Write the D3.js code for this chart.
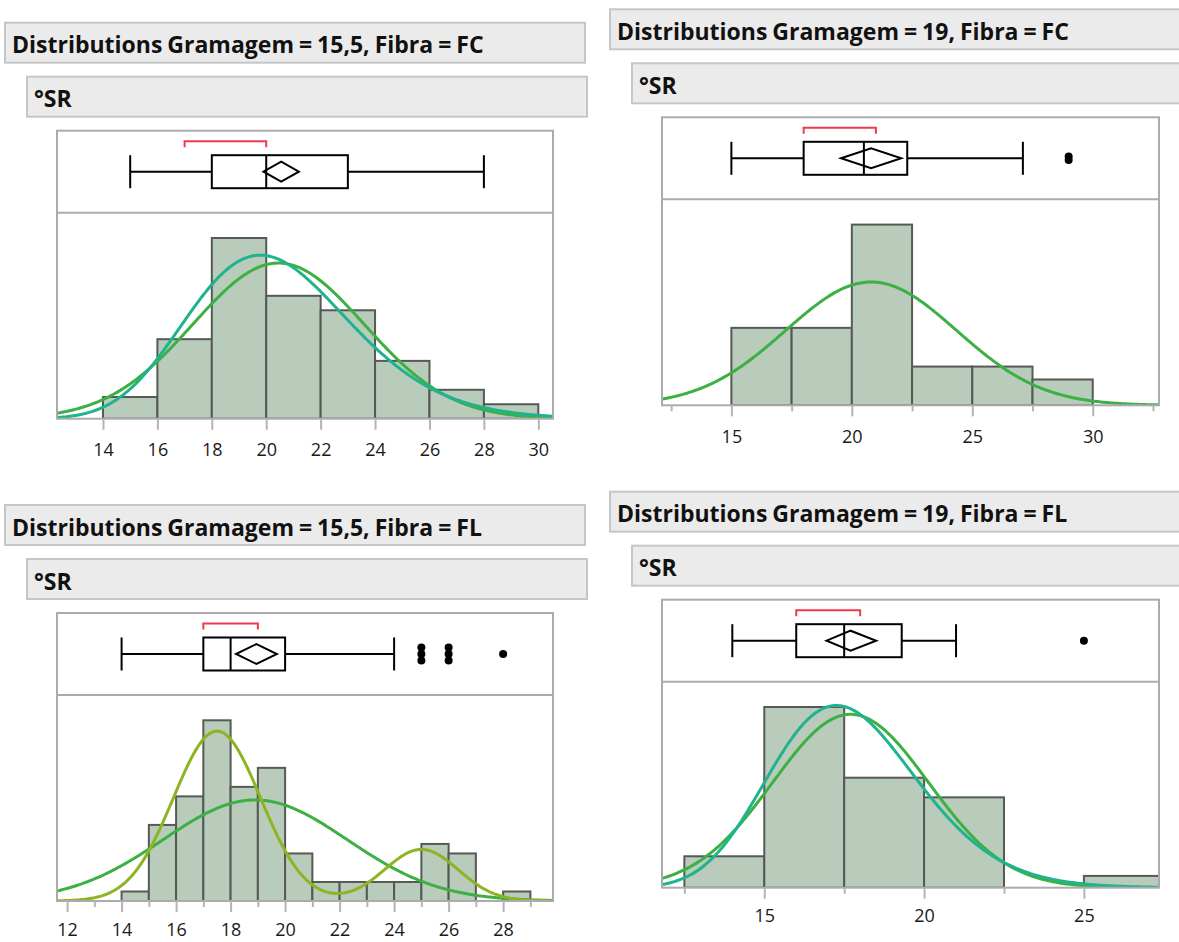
<!DOCTYPE html>
<html>
<head>
<meta charset="utf-8">
<script src="https://cdn.jsdelivr.net/npm/d3@7"></script>
<style>
  body { margin: 0; background: #fff; }
  svg { display: block; }
</style>
</head>
<body>
<div id="chart"></div>
<script>
// four JMP distribution reports, order: top-left, top-right, bottom-left, bottom-right
var titles = ["Distributions Gramagem = 15,5, Fibra = FC", "Distributions Gramagem = 19, Fibra = FC",
              "Distributions Gramagem = 15,5, Fibra = FL", "Distributions Gramagem = 19, Fibra = FL"];
var varName = "°SR";

// histogram bins
var binStart = [14, 15, 14, 12.5];
var binWidth = [2, 2.5, 1, 2.5];
var counts1 = [3, 11, 25, 17, 15, 8, 4, 2];
var counts2 = [6, 6, 14, 3, 3, 2];
var counts3 = [1, 8, 11, 19, 12, 14, 5, 2, 2, 2, 2, 6, 5, 0, 1];
var counts4 = [8, 46, 28, 23, 0, 3];

// x axis ranges and ticks
var xRange = [[12.31, 30.54], [12.12, 32.75], [11.63, 29.83], [11.8, 27.35]];
var majorTicks = [[14, 16, 18, 20, 22, 24, 26, 28, 30], [15, 20, 25, 30],
                  [12, 14, 16, 18, 20, 22, 24, 26, 28], [15, 20, 25]];
var minorTicks = [[], [12.5, 17.5, 22.5, 27.5, 32.5],
                  [13, 15, 17, 19, 21, 23, 25, 27, 29], [12.5, 17.5, 22.5]];

// outlier box plot: [whisker low, q1, median, q3, whisker high]
var boxFive = [[15, 18, 20, 23, 28], [15, 18, 20.5, 22.3, 27.1],
               [14, 17, 18, 20, 24], [14, 16, 17.5, 19.3, 21]];
// mean diamond: [ci low, mean, ci high]
var meanDiamond = [[19.9, 20.55, 21.2], [19.55, 20.8, 22.05],
                   [18.2, 18.95, 19.7], [16.95, 17.7, 18.5]];
var shortestHalf = [[17, 20], [18, 21], [17, 19], [16, 18]];
var outliers = [[], [29, 29], [25, 25, 25, 26, 26, 26, 28], [25]];

// fitted curves
var normalFit = [[20.45, 3.15], [20.8, 3.55], [18.9, 3.38], [17.7, 2.44]];   // mean, sd
var lognormalFit = [[3.0072, 0.1499], null, null, [2.8659, 0.1334]];        // mu, sigma of log
var mixtureFit = [null, null, [[0.796, 17.5, 1.6], [0.204, 25.0, 1.35]], null]; // p, mean, sd

var allCounts = [counts1, counts2, counts3, counts4];

var width = 1179, height = 942;
var headerX = [5, 610, 5, 610];
var topY = [22.7, 9.3, 505, 491.7];
var frameX = [57, 662, 57, 662];
var frameW = [496, 497, 496, 497];
var labelPad = [14, 14, 11, 11];

var svg = d3.select("#chart")
  .append("svg")
    .attr("width", width)
    .attr("height", height)
    .style("font-family", "'Segoe UI', 'Open Sans', 'Noto Sans', sans-serif");

function normPdf(x, m, s) {
  return Math.exp(-0.5 * Math.pow((x - m) / s, 2)) / (s * Math.sqrt(2 * Math.PI));
}
function lognormPdf(x, mu, s) {
  if (x <= 0) return 0;
  return Math.exp(-0.5 * Math.pow((Math.log(x) - mu) / s, 2)) / (x * s * Math.sqrt(2 * Math.PI));
}

for (var i = 0; i < 4; i++) drawPanel(i);

function drawPanel(i) {
  var T = topY[i];
  var g = svg.append("g");

  // header boxes
  g.append("rect")
    .attr("x", headerX[i]).attr("y", T)
    .attr("width", 580).attr("height", 40)
    .attr("fill", "#ebebeb").attr("stroke", "#c6c6c6").attr("stroke-width", 2);
  g.append("text")
    .attr("x", headerX[i] + 7).attr("y", T + 30.5)
    .attr("font-size", 23).attr("font-weight", "bold").attr("fill", "#111")
    .attr("word-spacing", -1)
    .text(titles[i]);
  g.append("rect")
    .attr("x", headerX[i] + 22).attr("y", T + 54)
    .attr("width", 560).attr("height", 40)
    .attr("fill", "#ebebeb").attr("stroke", "#c6c6c6").attr("stroke-width", 2);
  g.append("text")
    .attr("x", headerX[i] + 29).attr("y", T + 84.5)
    .attr("font-size", 23).attr("font-weight", "bold").attr("fill", "#111")
    .text(varName);

  var fx = frameX[i], fw = frameW[i];
  var boxTop = T + 108, sepY = T + 190, axisY = T + 396;

  var x = d3.scaleLinear().domain(xRange[i]).range([fx, fx + fw]);
  var counts = allCounts[i];
  var y = d3.scaleLinear()
    .domain([0, d3.max(counts) * 1.14])
    .range([axisY, sepY]);

  var bins = counts.map(function(c, k) {
    return {x0: binStart[i] + k * binWidth[i], x1: binStart[i] + (k + 1) * binWidth[i], n: c};
  });

  var clipId = "clip" + i;
  g.append("clipPath").attr("id", clipId)
    .append("rect").attr("x", fx).attr("y", sepY).attr("width", fw).attr("height", axisY - sepY);

  var hist = g.append("g").attr("clip-path", "url(#" + clipId + ")");
  hist.selectAll("rect.bar")
    .data(bins.filter(function(d) { return d.n > 0; }))
    .enter()
    .append("rect")
      .attr("class", "bar")
      .attr("x", function(d) { return x(d.x0); })
      .attr("y", function(d) { return y(d.n); })
      .attr("width", function(d) { return x(d.x1) - x(d.x0); })
      .attr("height", function(d) { return axisY - y(d.n); })
      .attr("fill", "#b9cbbb")
      .attr("stroke", "#555a55")
      .attr("stroke-width", 2);

  // fitted densities scaled to counts
  var scaleN = d3.sum(counts) * binWidth[i];
  var xs = d3.range(0, 301).map(function(k) {
    return xRange[i][0] + (xRange[i][1] - xRange[i][0]) * k / 300;
  });
  var line = d3.line()
    .x(function(d) { return x(d[0]); })
    .y(function(d) { return y(d[1]); });

  var curves = [];
  curves.push({col: "#3cb043", pts: xs.map(function(v) {
    return [v, scaleN * normPdf(v, normalFit[i][0], normalFit[i][1])];
  })});
  if (lognormalFit[i]) {
    curves.push({col: "#1fb38e", pts: xs.map(function(v) {
      return [v, scaleN * lognormPdf(v, lognormalFit[i][0], lognormalFit[i][1])];
    })});
  }
  if (mixtureFit[i]) {
    curves.push({col: "#8db522", pts: xs.map(function(v) {
      return [v, scaleN * d3.sum(mixtureFit[i], function(c) { return c[0] * normPdf(v, c[1], c[2]); })];
    })});
  }
  hist.selectAll("path.fit")
    .data(curves)
    .enter()
    .append("path")
      .attr("class", "fit")
      .attr("d", function(d) { return line(d.pts); })
      .attr("fill", "none")
      .attr("stroke", function(d) { return d.col; })
      .attr("stroke-width", 3);

  // frames
  g.append("rect")
    .attr("x", fx).attr("y", boxTop)
    .attr("width", fw).attr("height", axisY - boxTop)
    .attr("fill", "none").attr("stroke", "#ababab").attr("stroke-width", 2);
  g.append("line")
    .attr("x1", fx).attr("x2", fx + fw).attr("y1", sepY).attr("y2", sepY)
    .attr("stroke", "#ababab").attr("stroke-width", 2);

  // axis
  var axG = g.append("g").attr("transform", "translate(0," + axisY + ")");
  axG.call(d3.axisBottom(x).tickValues(majorTicks[i]).tickSize(11).tickPadding(labelPad[i])
    .tickFormat(d3.format("d")));
  var minG = g.append("g").attr("transform", "translate(0," + axisY + ")");
  minG.call(d3.axisBottom(x).tickValues(minorTicks[i]).tickSize(6).tickFormat(""));
  [axG, minG].forEach(function(a) {
    a.select(".domain").remove();
    a.selectAll(".tick line").attr("stroke", "#b4b4b4").attr("stroke-width", 2);
  });
  axG.selectAll(".tick text")
    .attr("font-size", 18).attr("fill", "#1a1a1a")
    .style("font-family", "'Segoe UI', 'Open Sans', 'Noto Sans', sans-serif");

  // box plot
  var b = boxFive[i];
  var bt = boxTop + 24.5, bb = boxTop + 57.5, wy = boxTop + 41;
  var bp = g.append("g").attr("stroke", "#000").attr("stroke-width", 2).attr("fill", "none");
  bp.append("line").attr("x1", x(b[0])).attr("x2", x(b[1])).attr("y1", wy).attr("y2", wy);
  bp.append("line").attr("x1", x(b[3])).attr("x2", x(b[4])).attr("y1", wy).attr("y2", wy);
  bp.append("line").attr("x1", x(b[0])).attr("x2", x(b[0])).attr("y1", bt).attr("y2", bb);
  bp.append("line").attr("x1", x(b[4])).attr("x2", x(b[4])).attr("y1", bt).attr("y2", bb);
  bp.append("rect").attr("x", x(b[1])).attr("y", bt).attr("width", x(b[3]) - x(b[1])).attr("height", bb - bt);
  bp.append("line").attr("x1", x(b[2])).attr("x2", x(b[2])).attr("y1", bt).attr("y2", bb);
  var md = meanDiamond[i];
  bp.append("path")
    .attr("d", "M" + x(md[0]) + "," + wy + "L" + x(md[1]) + "," + (wy - 10) +
               "L" + x(md[2]) + "," + wy + "L" + x(md[1]) + "," + (wy + 10) + "Z");

  // shortest half bracket
  var sh = shortestHalf[i], by = boxTop + 10.5;
  g.append("path")
    .attr("d", "M" + x(sh[0]) + "," + (by + 6) + "V" + by + "H" + x(sh[1]) + "V" + (by + 6))
    .attr("fill", "none").attr("stroke", "#f0394d").attr("stroke-width", 2);

  // outliers, stacked when repeated
  var seen = {};
  var pts = outliers[i].map(function(v) {
    seen[v] = (seen[v] || 0) + 1;
    return {v: v, k: seen[v] - 1};
  });
  g.selectAll("circle.out")
    .data(pts)
    .enter()
    .append("circle")
      .attr("class", "out")
      .attr("cx", function(d) { return x(d.v); })
      .attr("cy", function(d) {
        var n = seen[d.v];
        var step = n > 2 ? 6.5 : 3.5;
        return wy + (d.k - (n - 1) / 2) * step;
      })
      .attr("r", 4)
      .attr("fill", "#000");
}
</script>
</body>
</html>
